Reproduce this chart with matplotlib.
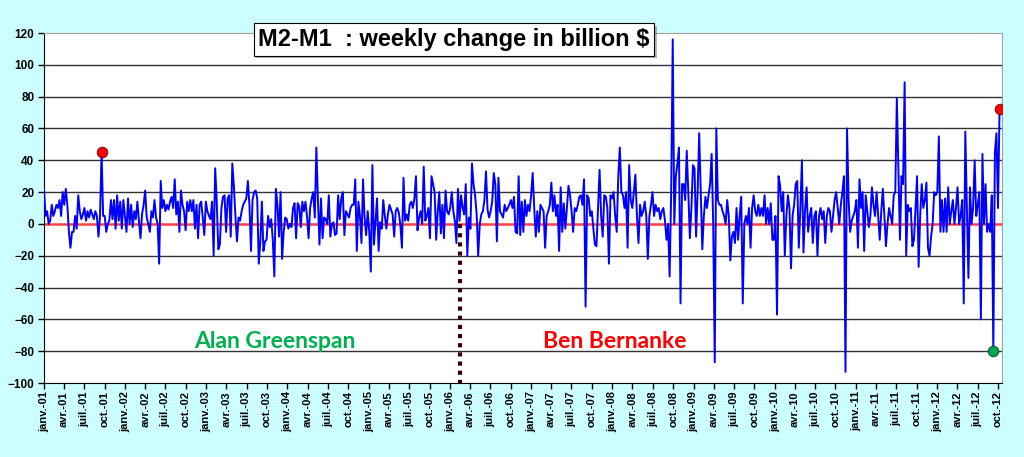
import pandas as pd
import matplotlib
matplotlib.use("Agg")
import matplotlib.pyplot as plt
import matplotlib.dates as mdates
import matplotlib.patheffects as pe
from matplotlib.ticker import FuncFormatter

# weekly change of M2-M1 (billion $), one list per year
y2001 = [22, 5, 8, 0, 2, 12, 5, 8, 12, 10, 15, 5, 20, 12, 22, 12, -5, -15, -5, -5,
         5, -3, 18, 8, 3, 6, 10, 2, 8, 4, 9, 6, 3, 8, 5, -8, 5, 45, 5, 5,
         -5, 0, 2, 15, 3, 15, -3, 18, 2, 14, -3, 15]
y2002 = [5, -5, 16, 0, 12, -2, 8, 3, 14, 2, -9, 6, 12, 21, 4, 0, -5, 8, 4, 15,
         4, 0, -25, 27, 10, 15, 8, 12, 9, 14, 17, 10, 28, 6, 14, -5, 21, 12, 8, -4,
         14, 8, 15, 8, 15, -3, 12, -9, 12, 14, 4, -7]
y2003 = [14, 8, 5, 3, 14, -20, 35, 14, -16, -13, 10, 17, 18, -5, 16, 18, -8, 38, 24, 5,
         -11, 4, 2, 8, 12, 14, 16, 27, 12, -17, 15, 20, 21, 16, -25, -11, 14, -17, -11, -10,
         5, -2, 3, -10, -33, 22, 12, -8, 20, -22, -5, 4]
y2004 = [3, -3, 0, -2, 10, 13, -9, 13, 11, -2, 14, 8, 14, 5, -9, 10, 16, 20, 4, 48,
         16, -13, 16, -9, 4, 3, 0, 18, -8, 0, 1, -7, -6, 18, 3, 16, 20, -7, 8, 6,
         4, 10, 12, 12, 28, -17, 14, 5, -12, 28, 4, -7]
y2005 = [8, -5, -30, 37, -13, 2, 16, -17, 1, -3, 15, 5, -3, 6, 12, 9, 6, -8, 8, 10,
         7, -1, -15, 29, 2, 6, 2, 12, 14, 10, 16, 30, -4, 4, 8, 0, 36, 2, 5, 10,
         -9, 30, 25, 20, -10, 8, 20, -6, 12, -9, 21, 8]
y2006 = [6, 10, 20, 8, 2, -12, 22, 2, 18, 10, 6, 25, -20, 4, -3, 38, 25, 18, 6, -20,
         0, 6, 8, 15, 33, 9, 4, 8, 14, 32, 25, -11, 29, 8, 6, 4, 12, 8, 10, 12,
         15, 10, 17, -5, -6, 30, -7, 14, -5, 15, 5, 12]
y2007 = [8, 18, 32, 10, -8, 8, -5, 12, 10, 8, -15, 5, 8, 12, 26, 8, 18, 5, 12, -17,
         23, -5, 13, -3, 10, 24, 18, 8, -5, 10, 8, 12, 17, 18, 12, 28, -52, 18, 16, 5,
         8, -3, -13, -14, 10, 34, 5, -8, 18, 17, 10, -25]
y2008 = [18, 16, 20, 5, -5, 30, 48, 20, 18, 10, 20, -15, 37, 15, 10, 20, 31, 5, -12, 12,
         5, 8, 14, 5, -22, 5, 12, 20, 5, 12, 8, 10, 3, 8, 10, 2, -10, 0, -33, 20,
         116, 0, 30, 38, 48, -50, 25, 25, 15, 46, 20, -9]
y2009 = [10, 37, 35, -8, 20, 57, 20, -16, 5, 17, 10, 18, 25, 44, 0, -87, 60, 15, 12, 12,
         8, 5, 0, 15, 5, -23, -8, -5, -12, 10, -10, 5, 17, -50, 0, 5, 0, 10, -15, 10,
         18, 8, 5, 12, 5, 10, 5, 18, 0, 10, 0, 13]
y2010 = [-10, -10, 5, -57, 30, 24, 8, 20, -20, 5, 18, 10, -28, 5, 12, 25, 27, -15, 10, 40,
         -18, 8, 23, -5, 5, 10, -12, 5, 8, -20, 5, 10, 3, 8, -12, 5, 10, 8, -5, 5,
         15, 20, 10, 0, 12, 20, 30, -93, 60, 15, -5, 2]
y2011 = [5, 8, 15, -15, 28, 10, 20, -17, 18, 8, -2, 5, 23, 12, 5, 20, 5, -10, 8, 22,
         5, -14, 0, 10, 5, 0, 18, 20, 79, 35, -10, 30, 25, 89, -20, 12, 8, 10, -14, -10,
         10, 30, -27, 5, 25, 10, 15, 26, -15, -20, -8, 0]
y2012 = [20, 18, 20, 55, -5, 15, -5, 16, -5, 23, 0, 8, 15, 0, 10, 23, 0, 5, 15, -50,
         58, 10, -34, 23, 0, 10, 40, 5, 12, 20, -60, 44, 0, 25, -5, 0, -5, 18, -80, 45,
         57, 10, 72]

changes = y2001 + y2002 + y2003 + y2004 + y2005 + y2006 + y2007 + y2008 + y2009 + y2010 + y2011 + y2012
dates = pd.date_range("2001-01-01", periods=len(changes), freq="7D")

red_points = [37, len(changes) - 1]
green_points = [len(changes) - 5]
bernanke_start = pd.Timestamp("2006-02-13")

fr_months = {1: "janv.", 4: "avr.", 7: "juil.", 10: "oct."}

plt.rcParams["font.family"] = ["Liberation Sans", "DejaVu Sans"]

fig = plt.figure(figsize=(10.24, 4.57), dpi=100)
fig.patch.set_facecolor("#CCFFFF")
ax = fig.add_axes([44 / 1024, 1 - 383 / 457, (1002 - 44) / 1024, (383 - 33) / 457])
ax.set_facecolor("white")

for v in range(-80, 101, 20):
    if v != 0:
        ax.axhline(v, color="#333333", lw=1, zorder=1)
ax.axhline(0, color="#FF4040", lw=1.8, zorder=2)

ax.plot(dates, changes, color="#0000FF", lw=1.4, zorder=3)

for i in red_points:
    ax.plot(dates[i], changes[i], "o", ms=7.5, mfc="#FF0000", mec="#7A1010", mew=0.8, zorder=5)
for i in green_points:
    ax.plot(dates[i], changes[i], "o", ms=7.5, mfc="#00A550", mec="#0F5A30", mew=0.8, zorder=5)

ax.plot([bernanke_start, bernanke_start], [0, -100], color="#3A0000", lw=3,
        linestyle=(0, (1, 1.2)), zorder=4)

ax.set_ylim(-100, 120)
ax.set_yticks(range(-100, 121, 20))
ax.set_xlim(pd.Timestamp("2001-01-01"), pd.Timestamp("2012-10-19"))
ax.xaxis.set_major_locator(mdates.MonthLocator(bymonth=[1, 4, 7, 10]))
ax.xaxis.set_major_formatter(FuncFormatter(
    lambda x, pos: f"{fr_months[mdates.num2date(x).month]}-{mdates.num2date(x):%y}"))

ax.tick_params(axis="y", direction="out", length=4, width=1, labelsize=8.5, pad=3)
ax.tick_params(axis="x", direction="out", length=4, width=1, labelsize=8, pad=2, rotation=90)
for lbl in ax.get_xticklabels() + ax.get_yticklabels():
    lbl.set_fontweight("bold")

ax.spines["left"].set_color("black")
ax.spines["bottom"].set_color("black")
for s in ["top", "right"]:
    ax.spines[s].set_color("#A0A0A0")
    ax.spines[s].set_linewidth(0.8)

title = fig.text(454 / 1024, 1 - 39.5 / 457, "M2-M1  : weekly change in billion $",
                 ha="center", va="center", fontsize=17, fontweight="bold",
                 bbox=dict(boxstyle="square,pad=0.2", fc="white", ec="black", lw=0.8))
title.get_bbox_patch().set_path_effects([pe.withSimplePatchShadow(offset=(2, -2), alpha=0.4)])

fig.text(275 / 1024, 1 - 341 / 457, "Alan Greenspan", color="#00B050", ha="center", va="center",
         fontsize=16.5, fontweight="bold", family=["Lato", "DejaVu Sans"])
fig.text(615 / 1024, 1 - 341 / 457, "Ben Bernanke", color="#FF0000", ha="center", va="center",
         fontsize=16.5, fontweight="bold", family=["Lato", "DejaVu Sans"])

fig.savefig("out.png", dpi=100, facecolor=fig.get_facecolor())
